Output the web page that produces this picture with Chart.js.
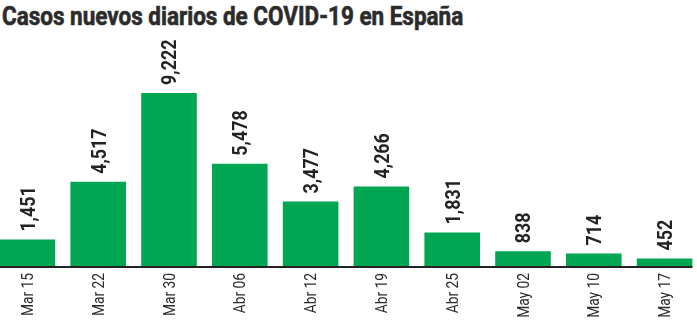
<!DOCTYPE html>
<html>
<head>
<meta charset="utf-8">
<script src="https://cdn.jsdelivr.net/npm/chart.js@4"></script>
<style>
  body { margin: 0; width: 697px; height: 322px; overflow: hidden; background: #fff; position: relative; }
  #titulo {
    position: absolute; left: 2px; top: 1px; margin: 0;
    font: 700 25.5px Roboto, sans-serif; color: #2b2b2b; white-space: nowrap;
    -webkit-text-stroke: 0.6px #2b2b2b;
    transform-origin: 0 0;
  }
  #casosChart { position: absolute; left: -8px; top: 0; }
</style>
</head>
<body>
<h1 id="titulo">Casos nuevos diarios de COVID-19 en España</h1>
<canvas id="casosChart" width="708" height="322"></canvas>
<script>
const fechas = ['Mar 15', 'Mar 22', 'Mar 30', 'Abr 06', 'Abr 12', 'Abr 19', 'Abr 25', 'May 02', 'May 10', 'May 17'];
const casos = [1451, 4517, 9222, 5478, 3477, 4266, 1831, 838, 714, 452];

// condensed look for the heading
let titulo = document.getElementById('titulo');
titulo.style.transform = 'scaleX(' + (461 / titulo.scrollWidth) + ')';

// value labels, tick labels and the baseline, all drawn rotated and narrowed
const etiquetas = {
    id: 'etiquetas',
    afterDatasetsDraw(chart) {
        let ctx = chart.ctx;
        let meta = chart.getDatasetMeta(0);
        let fondo = chart.chartArea.bottom;
        let primera = meta.data[0];
        let ultima = meta.data[meta.data.length - 1];

        ctx.save();
        ctx.strokeStyle = '#222';
        ctx.lineWidth = 2;
        ctx.beginPath();
        ctx.moveTo(primera.x - primera.width / 2, fondo);
        ctx.lineTo(ultima.x + ultima.width / 2, fondo);
        ctx.stroke();

        meta.data.forEach((bar, i) => {
            // number above the bar
            ctx.save();
            ctx.translate(bar.x + 21 * 0.711 / 2, bar.y - 8);
            ctx.rotate(-Math.PI / 2);
            ctx.scale(0.85, 1);
            ctx.font = 'bold 21px Roboto';
            ctx.fillStyle = '#222';
            ctx.textAlign = 'left';
            ctx.textBaseline = 'alphabetic';
            ctx.fillText(new Intl.NumberFormat('en-US').format(casos[i]), 0, 0);
            ctx.restore();

            // date under the axis
            let x = chart.scales.x.getPixelForValue(i);
            ctx.save();
            ctx.translate(x + 16 * 0.711 / 2, fondo + 6);
            ctx.rotate(-Math.PI / 2);
            ctx.scale(0.86, 1);
            ctx.font = '16px Roboto';
            ctx.fillStyle = '#2b2b2b';
            ctx.textAlign = 'right';
            ctx.textBaseline = 'alphabetic';
            ctx.fillText(fechas[i], 0, 0);
            ctx.restore();
        });
        ctx.restore();
    }
};

new Chart(document.getElementById('casosChart'), {
    type: 'bar',
    data: {
        labels: fechas,
        datasets: [{
            label: 'Casos nuevos',
            data: casos,
            backgroundColor: '#00a651',
            borderWidth: 0,
            categoryPercentage: 1,
            barPercentage: 0.785
        }]
    },
    options: {
        responsive: false,
        animation: false,
        devicePixelRatio: 1,
        layout: { padding: { top: 40, bottom: 55, left: 0, right: 0 } },
        plugins: {
            legend: { display: false },
            tooltip: { enabled: false }
        },
        scales: {
            x: { display: false },
            y: { display: false, min: 0, max: 12030 }
        }
    },
    plugins: [etiquetas]
});
</script>
</body>
</html>
